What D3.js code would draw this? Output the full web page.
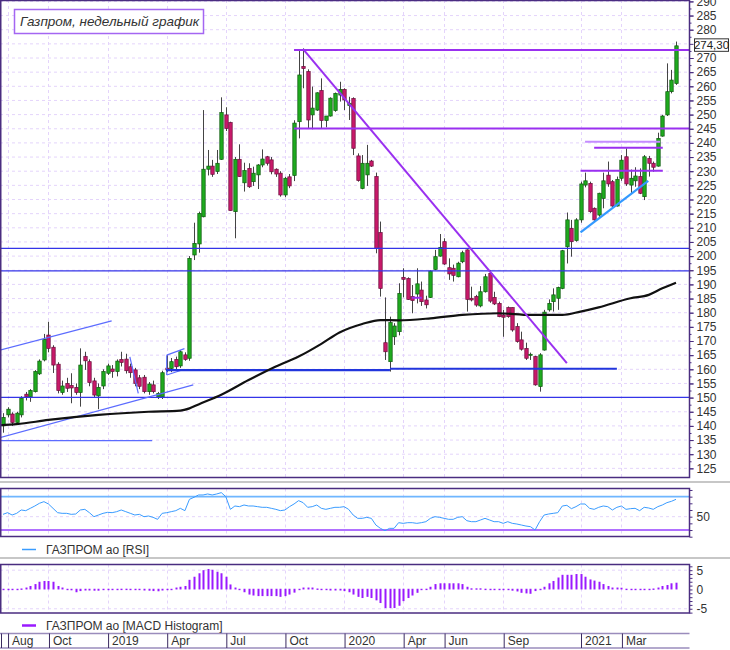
<!DOCTYPE html>
<html>
<head>
<meta charset="utf-8">
<script src="https://cdn.jsdelivr.net/npm/d3@7"></script>
<style>
  body { margin: 0; background: #fff; }
  text { font-family: "Liberation Sans Narrow", "Liberation Sans", Arial, sans-serif; }
</style>
</head>
<body>
<div id="container"></div>
<script>
// weekly candles, Jul 23 2018 .. May 24 2021
let opens = [
  140.0,143.9,144.2,141.2,143.9,151.2,150.3,152.1,158.4,163.3,
  172.1,167.8,161.8,151.8,155.0,154.3,153.6,151.8,164.5,162.7,
  155.9,150.6,154.1,158.6,160.1,159.2,163.5,163.6,160.9,159.8,
  157.0,157.2,152.1,154.5,150.3,150.3,160.4,160.3,163.5,161.2,
  165.1,163.9,200.4,204.3,213.9,230.7,231.8,229.9,234.2,249.9,
  247.2,215.7,234.2,225.9,231.0,226.3,228.7,232.2,235.1,234.0,
  230.7,229.3,221.6,228.0,228.5,247.5,267.0,265.2,249.9,251.6,
  258.5,247.9,249.5,251.4,256.9,258.9,253.2,255.7,235.4,223.9,
  228.7,233.6,228.1,208.3,169.4,162.7,171.5,173.3,192.5,192.1,
  185.7,186.6,188.0,184.5,185.4,195.3,200.0,205.1,195.9,195.7,
  192.7,198.0,202.2,185.1,185.7,182.4,187.4,193.9,185.4,183.3,
  179.2,181.8,181.8,175.1,170.4,167.4,165.0,164.5,153.9,166.8,
  181.0,183.9,185.1,188.6,203.3,209.8,205.5,212.8,225.1,225.7,
  216.9,214.5,220.4,228.6,226.3,217.7,227.5,235.1,225.1,226.6,
  228.1,221.0,234.5,232.8,231.8,242.4,249.9,258.1,261.0
];
let highs = [
  144.5,146.6,144.8,145.0,150.5,152.0,153.0,159.7,163.5,172.5,
  176.8,168.5,162.5,156.0,157.0,158.6,155.0,167.4,166.2,163.5,
  157.0,155.0,160.0,162.0,161.5,163.5,166.2,165.5,162.0,160.5,
  158.0,158.0,155.5,156.0,152.0,159.5,165.0,164.0,164.5,166.8,
  166.0,200.0,211.8,215.7,251.6,237.5,234.0,237.5,256.1,252.6,
  247.5,235.0,239.5,233.0,232.8,231.6,232.5,237.7,235.4,235.0,
  231.0,230.0,228.0,229.0,248.0,272.8,273.4,266.0,259.9,257.9,
  262.8,249.0,256.1,257.8,261.6,259.3,256.3,256.1,236.3,235.7,
  239.3,234.0,229.5,212.2,185.4,178.6,176.3,190.4,195.7,192.5,
  189.8,195.7,191.0,186.0,195.0,202.2,207.8,206.3,199.2,197.0,
  198.0,201.9,202.4,189.2,186.3,189.4,193.7,195.1,187.4,183.9,
  181.0,182.2,181.9,176.3,173.3,169.4,165.9,164.8,165.7,181.0,
  184.7,188.6,189.2,202.2,215.4,212.8,213.4,226.3,229.5,226.3,
  217.2,222.4,229.5,233.4,226.9,228.1,235.7,238.1,230.6,231.4,
  231.0,235.7,235.4,233.4,243.6,249.9,268.1,265.8,275.8
];
let lows = [
  137.6,143.0,140.0,140.5,143.0,149.0,148.5,151.8,158.0,162.8,
  166.0,158.7,151.5,151.0,152.0,148.0,151.0,146.8,159.8,154.0,
  150.0,145.9,153.0,158.0,157.0,157.5,161.0,158.5,157.0,154.0,
  153.0,151.5,151.0,151.5,149.5,149.5,159.0,159.0,160.0,160.5,
  163.0,163.0,198.6,201.2,213.7,228.5,228.0,229.0,234.0,244.2,
  216.0,206.3,228.0,222.8,224.1,224.8,223.7,231.4,232.0,228.9,
  228.0,221.0,220.8,224.0,226.5,241.6,259.3,245.1,244.8,251.3,
  245.1,245.5,249.3,251.0,254.6,251.6,248.1,235.7,226.3,223.6,
  224.8,231.5,201.0,185.7,163.3,159.2,168.6,172.0,185.4,184.5,
  179.8,183.3,182.4,181.5,185.2,195.0,199.8,196.9,191.6,191.0,
  192.5,197.5,180.4,184.0,182.1,181.9,187.1,183.5,182.7,178.4,
  171.5,178.2,173.3,169.4,166.6,163.3,163.3,154.2,152.1,166.6,
  180.4,180.4,181.0,188.3,197.4,199.8,205.1,211.8,224.3,215.3,
  212.5,213.9,216.9,224.5,217.2,217.5,226.6,224.8,221.9,224.5,
  221.9,219.8,228.1,229.8,231.6,242.2,249.5,257.5,260.5
];
let closes = [
  143.0,145.9,141.2,144.5,149.8,150.3,152.5,159.2,162.9,170.6,
  167.4,161.5,152.5,154.1,153.3,153.4,151.8,161.5,163.0,155.3,
  150.9,153.6,159.2,161.2,159.2,162.9,162.4,159.5,158.8,155.0,
  154.0,152.1,154.8,152.1,151.5,158.8,159.8,162.7,160.9,166.2,
  163.5,199.2,204.5,215.1,230.7,231.8,228.9,232.8,250.7,245.1,
  216.1,234.2,228.1,230.2,224.5,229.3,232.2,234.3,232.8,229.8,
  229.0,221.6,227.5,224.8,247.0,264.0,266.3,248.1,252.3,257.7,
  247.9,249.5,255.8,257.5,258.9,255.2,254.0,238.1,226.7,232.8,
  232.8,231.8,202.7,188.6,166.2,176.5,175.3,186.8,191.8,184.7,
  184.3,190.2,183.9,182.8,194.7,199.8,203.1,197.2,193.7,193.2,
  197.5,201.2,184.7,184.5,182.7,187.4,192.7,184.1,183.1,178.6,
  178.4,178.6,173.9,169.8,167.1,163.9,165.3,154.5,165.1,180.2,
  183.3,186.3,188.9,201.9,212.8,205.1,212.8,225.5,226.6,215.7,
  212.8,222.2,226.6,225.5,217.7,227.1,233.9,225.5,227.5,228.3,
  222.2,235.1,232.8,231.4,241.6,249.5,258.1,262.2,274.3
];
let rsi = [
  53.5,56,52.5,55,60,59,62.5,66,70,72.5,
  69,62.5,56,55,55,53.5,54,60,61,56,
  50,52.5,55,56.5,56,57.5,60,57.5,55,52.5,
  53.5,50,51,49,46,55,56,57.5,59,62.5,
  59,76,79,82.5,82.5,84,82.5,84,86,80,
  61,66,65,67.5,66,66,65,64,64,62.5,
  61,59,60,65,69,74,71,64,65,67.5,
  62.5,61,62.5,64,64,65,61,52.5,47.5,47.5,
  49,47.5,37.5,32.5,29,32.5,32.5,41,40,41,
  41,40,41,42.5,47.5,50,49,47.5,46,46,
  49,50,44,42.5,42.5,45,47.5,45,42.5,42.5,
  40,42.5,40,39,37.5,36,35,30,42.5,52.5,
  54,55,56,66,67,62,65,69,69,62.5,
  61,64,66,65,60,64,66,61,62,62.5,
  59,64,63,61,65,67.5,71,73,76
];
let macd = [
  0,0,0.1,0.1,0.26,0.5,0.9,1.4,2.0,2.2,
  2.2,2.0,0.9,0.5,0.1,-0.4,-0.9,-0.6,-0.45,-0.45,
  -0.5,-0.5,-0.35,-0.2,0,0.05,0.2,0.2,0,-0.2,
  -0.35,-0.45,-0.5,-0.6,-0.65,-0.45,-0.2,0.1,0.5,0.7,
  0.9,2.5,3.3,4.2,5.0,5.3,5.1,4.6,4.2,3.3,
  1.3,0.5,0,-0.9,-1.5,-1.75,-1.9,-1.9,-1.9,-1.9,
  -1.9,-2.1,-1.9,-1.5,-1.0,0,0.5,0.5,0.5,0.25,
  -0.2,-0.35,-0.45,-0.45,-0.45,-0.6,-0.9,-1.5,-2.1,-2.4,
  -2.1,-2.4,-3.0,-3.7,-5.0,-5.0,-5.0,-4.4,-3.2,-2.4,
  -1.75,-1.05,-0.2,0.2,0.7,1.4,1.6,1.6,1.6,1.6,
  1.6,1.4,0.7,0.3,0.3,0.3,0.2,0,0,0,
  -0.2,-0.35,-0.5,-0.7,-1.05,-1.2,-1.3,-0.6,0,0.7,
  1.6,2.2,3.1,3.8,3.8,3.8,4.0,4.0,3.3,2.6,
  2.3,2.0,1.4,0.9,0.5,0.5,0.45,0.2,0,-0.2,
  -0.2,-0.2,0,0.25,0.5,0.9,1.15,1.6,1.75
];
// moving average: [week index, value]
let maPoints = [
  [-1,140.2],[3,140.6],[10,142.1],[21,143.9],[32,145.0],[39,145.4],[41,146.2],
  [43,147.6],[48,151],[54,156.2],[60,161],[65,164.5],[70,169],[74,173],[79,176],
  [83,177.4],[87,177.3],[94,178.0],[101,179.2],[109,179.8],[116,179.2],[123,179.2],
  [127,180.4],[131,181.9],[138,185.1],[142,186.3],[145,188.6],[148,190.6]
];
// drawn lines: [week index 1, price 1, week index 2, price 2]
let purpleLines = [
  [64.0,272.8,151,272.8],[64.0,245.1,151,245.1],[66.0,273.1,124.0,162.2],
  [89.9,185.3,92.1,185.3],[130.0,238.3,145.1,238.3],[127.0,230.2,145.1,230.2]
];
let lightPurpleLines = [[128.0,240.4,144.5,240.4]];
let blueLines = [[-1,202.7,151,202.7],[-1,194.8,151,194.8],[-1,150.1,151,150.1]];
let thickBlueLines = [[35.85,159.7,85.1,159.7],[85.1,160.2,135.0,160.2]];
let channelLines = [
  [-1,166.6,23.9,177.1],[-1,135.7,41.85,154.5],[-1,134.8,32.8,134.8],
  [36.0,165.0,39.9,167.3],[36.0,158.0,39.9,160.0],[36.0,158.0,36.0,165.0],
  [27.9,164.4,29.75,151.5]
];
let skyLines = [[127.0,208.4,141.9,226.6]];

let monthStarts = ["2018-08-01","2018-10-01","2019-01-01","2019-04-01","2019-07-01","2019-10-01",
  "2020-01-01","2020-04-01","2020-06-01","2020-09-01","2021-01-01","2021-03-01"];
let monthLabels = ["Aug","Oct","2019","Apr","Jul","Oct","2020","Apr","Jun","Sep","2021","Mar"];
let priceTicks = d3.range(125, 291, 5);
let priceLabelTicks = priceTicks.filter(v => v !== 275); // 275 sits under the last-price box
let rsiTicks = d3.range(20, 91, 10);
let macdTicks = d3.range(-6, 7, 1);
let lastPrice = "274,30";
let title = "Газпром, недельный график";

let w = 730;
let h = 650;
let frame = "#4a2d80";
let grid = "#e4d4fb";
let R = 689.5;

let viz = d3.select("#container").append("svg")
    .attr("width", w)
    .attr("height", h);

let weeks = d3.timeMonday.range(new Date(2018, 6, 23), new Date(2021, 4, 25));
let x = d3.scaleTime().domain([weeks[0], weeks[weeks.length - 1]]).range([3, 676]);
let xi = i => x(d3.timeHour.offset(weeks[0], i * 168));
let y = d3.scaleLinear().domain([125, 290]).range([468.35, 1.4]);
let yr = d3.scaleLinear().domain([20, 92.5]).range([536.7, 488.3]);
let ym = d3.scaleLinear().domain([-6.1, 6.6]).range([613, 564]);
let seps = monthStarts.map(s => d3.timeMonday.floor(new Date(s + "T00:00")));

viz.append("defs").append("clipPath").attr("id", "clipMain")
  .append("rect").attr("x", 0).attr("y", 0).attr("width", R).attr("height", 477.5);

// ---------- main panel grid
let gm = viz.append("g");
gm.selectAll("line.h").data(priceTicks).enter().append("line")
    .attr("x1", 0).attr("x2", R)
    .attr("y1", d => y(d)).attr("y2", d => y(d))
    .attr("stroke", grid).attr("stroke-dasharray", "3,3");
function vgrid(g, top, bottom) {
  g.selectAll("line.v").data(seps).enter().append("line")
    .attr("x1", d => Math.round(x(d)) + 0.5).attr("x2", d => Math.round(x(d)) + 0.5)
    .attr("y1", top).attr("y2", bottom)
    .attr("stroke", grid).attr("stroke-dasharray", "3,3");
}
vgrid(gm, 0, 477);

// ---------- candles
let idx = d3.range(opens.length);
let cg = viz.append("g").attr("clip-path", "url(#clipMain)");
cg.selectAll("line.wick").data(idx).enter().append("line")
    .attr("x1", i => Math.round(x(weeks[i])) + 0.5)
    .attr("x2", i => Math.round(x(weeks[i])) + 0.5)
    .attr("y1", i => y(highs[i]))
    .attr("y2", i => y(lows[i]))
    .attr("stroke", "#444")
    .attr("stroke-width", 1);
cg.selectAll("rect.body").data(idx).enter().append("rect")
    .attr("x", i => Math.round(x(weeks[i])) - 1.2)
    .attr("width", 3.4)
    .attr("y", i => y(Math.max(opens[i], closes[i])))
    .attr("height", i => Math.max(1, Math.abs(y(opens[i]) - y(closes[i]))))
    .attr("fill", i => closes[i] >= opens[i] ? "#1faa1f" : "#c8196a")
    .attr("stroke", i => closes[i] >= opens[i] ? "#0d5a0d" : "#6a0e3a")
    .attr("stroke-width", 0.7);

// ---------- drawn lines
let lg = viz.append("g").attr("clip-path", "url(#clipMain)");
function segs(data, color, width) {
  lg.selectAll(null).data(data).enter().append("line")
    .attr("x1", d => xi(d[0])).attr("y1", d => y(d[1]))
    .attr("x2", d => xi(d[2])).attr("y2", d => y(d[3]))
    .attr("stroke", color).attr("stroke-width", width);
}
segs(blueLines, "#3434e8", 1.3);
segs(channelLines, "#5c6cff", 1.2);
segs(thickBlueLines, "#2236dd", 2.2);

lg.append("path")
    .datum(maPoints)
    .attr("d", d3.line().x(d => xi(d[0])).y(d => y(d[1])).curve(d3.curveMonotoneX))
    .attr("fill", "none")
    .attr("stroke", "#111")
    .attr("stroke-width", 2.2);

segs(lightPurpleLines, "#c48cff", 2);
segs(purpleLines, "#9a30f0", 2);
segs(skyLines, "#3399ff", 2.2);

// ---------- main frame and price axis
viz.append("rect")
    .attr("x", 0.75).attr("y", 0.5).attr("width", R - 0.75).attr("height", 477)
    .attr("fill", "none").attr("stroke", frame).attr("stroke-width", 1.5);

function styleAxis(g) {
  g.select(".domain").remove();
  g.selectAll(".tick line").attr("stroke", frame);
  g.selectAll(".tick text").attr("fill", "#333").attr("font-size", 12);
}
viz.append("g").attr("transform", `translate(${R},0)`)
    .call(d3.axisRight(y).tickValues(d3.range(127.5, 290, 5)).tickSize(2).tickFormat(""))
    .call(styleAxis);
viz.append("g").attr("transform", `translate(${R},0)`)
    .call(d3.axisRight(y).tickValues(priceTicks).tickSize(4).tickFormat(""))
    .call(styleAxis);
viz.append("g").attr("transform", `translate(${R},0)`)
    .call(d3.axisRight(y).tickValues(priceLabelTicks).tickSize(4).tickPadding(3).tickFormat(d3.format("d")))
    .call(styleAxis);

// last price box
viz.append("rect")
    .attr("x", 694.5).attr("y", y(274.3) - 7).attr("width", 34).attr("height", 12.5)
    .attr("fill", "#fff").attr("stroke", "#333").attr("stroke-width", 1);
viz.append("text")
    .text(lastPrice)
    .attr("x", 711.5).attr("y", y(274.3) + 3.5)
    .attr("text-anchor", "middle")
    .attr("font-size", 11.5).attr("fill", "#222");

// title
viz.append("rect")
    .attr("x", 14.5).attr("y", 9.5).attr("width", 189).attr("height", 24)
    .attr("fill", "#fff").attr("stroke", "#a466f2").attr("stroke-width", 1.5);
viz.append("text")
    .text(title)
    .attr("x", 20).attr("y", 26)
    .attr("font-family", "Liberation Sans, Arial, sans-serif")
    .attr("font-style", "italic")
    .attr("font-size", 13.5)
    .attr("fill", "#333");

// ---------- separators
[482, 558].forEach(yy => {
  viz.append("line").attr("x1", 0).attr("x2", w).attr("y1", yy).attr("y2", yy)
    .attr("stroke", "#b4b4b4").attr("stroke-width", 1.5);
});

// ---------- RSI panel
let gr = viz.append("g");
gr.append("line").attr("x1", 0).attr("x2", R).attr("y1", yr(50)).attr("y2", yr(50))
    .attr("stroke", grid).attr("stroke-dasharray", "3,3");
vgrid(gr, 488.5, 536.5);
gr.append("line").attr("x1", 0).attr("x2", R).attr("y1", yr(80)).attr("y2", yr(80))
    .attr("stroke", "#6fb6ff").attr("stroke-width", 1.6);
gr.append("line").attr("x1", 0).attr("x2", R).attr("y1", yr(30)).attr("y2", yr(30))
    .attr("stroke", "#b070ff").attr("stroke-width", 2);
gr.append("path")
    .datum(rsi)
    .attr("d", d3.line().x((d, i) => x(weeks[i])).y(d => yr(d)))
    .attr("fill", "none").attr("stroke", "#3a9cff").attr("stroke-width", 1);
gr.append("rect")
    .attr("x", 0.75).attr("y", 488.5).attr("width", R - 0.75).attr("height", 48)
    .attr("fill", "none").attr("stroke", frame).attr("stroke-width", 1.5);
viz.append("g").attr("transform", `translate(${R},0)`)
    .call(d3.axisRight(yr).tickValues(rsiTicks).tickSize(3).tickPadding(4)
      .tickFormat(d => d === 50 ? "50" : ""))
    .call(styleAxis);

viz.append("line").attr("x1", 22).attr("x2", 36).attr("y1", 549.5).attr("y2", 549.5)
    .attr("stroke", "#3a9cff").attr("stroke-width", 1.5);
viz.append("text").text("ГАЗПРОМ ао [RSI]")
    .attr("x", 46).attr("y", 553.5).attr("font-size", 12).attr("fill", "#333");

// ---------- MACD panel
let gh = viz.append("g");
[5, -5].forEach(v => {
  gh.append("line").attr("x1", 0).attr("x2", R).attr("y1", ym(v)).attr("y2", ym(v))
    .attr("stroke", grid).attr("stroke-dasharray", "3,3");
});
vgrid(gh, 564.5, 613);
gh.selectAll("rect.bar").data(macd).enter().append("rect")
    .attr("x", (d, i) => Math.round(x(weeks[i])) - 0.5)
    .attr("width", 2)
    .attr("y", d => Math.min(ym(Math.max(0, d)), ym(0) - 0.7))
    .attr("height", d => Math.max(1.4, Math.abs(ym(d) - ym(0))))
    .attr("fill", "#9a1aff");
gh.append("rect")
    .attr("x", 0.75).attr("y", 564.5).attr("width", R - 0.75).attr("height", 48.5)
    .attr("fill", "none").attr("stroke", frame).attr("stroke-width", 1.5);
viz.append("g").attr("transform", `translate(${R},0)`)
    .call(d3.axisRight(ym).tickValues(macdTicks).tickSize(3).tickPadding(4)
      .tickFormat(d => (d === 5 || d === 0 || d === -5) ? String(d) : ""))
    .call(styleAxis);

viz.append("line").attr("x1", 22).attr("x2", 36).attr("y1", 625.5).attr("y2", 625.5)
    .attr("stroke", "#9a1aff").attr("stroke-width", 2.5);
viz.append("text").text("ГАЗПРОМ ао [MACD Histogram]")
    .attr("x", 46).attr("y", 629.5).attr("font-size", 12).attr("fill", "#333");

// ---------- time axis
[633.5, 648].forEach(yy => {
  viz.append("line").attr("x1", 0).attr("x2", R).attr("y1", yy).attr("y2", yy)
    .attr("stroke", "#9a8cbc").attr("stroke-width", 1.5);
});
viz.append("line").attr("x1", 1.5).attr("x2", 1.5).attr("y1", 633.5).attr("y2", 648)
    .attr("stroke", "#3a2a60");
let xa = viz.append("g").attr("transform", "translate(0,633.5)")
    .call(d3.axisBottom(x).tickValues(seps).tickSize(14.5).tickPadding(0)
      .tickFormat((d, i) => monthLabels[i]));
xa.select(".domain").remove();
xa.selectAll(".tick line").attr("stroke", "#3a2a60").attr("transform", "translate(0.5,0)");
xa.selectAll(".tick text")
    .attr("text-anchor", "start")
    .attr("x", 4).attr("y", 2.5)
    .attr("font-size", 12).attr("fill", "#333");
</script>
</body>
</html>
